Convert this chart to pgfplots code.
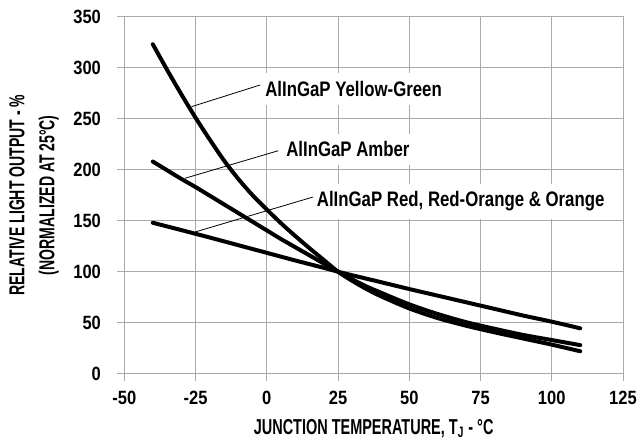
\documentclass[border=0pt]{standalone}
\usepackage{fontspec}
\setmainfont{Liberation Sans Bold}[FakeStretch=0.80]
\newfontfamily\tickfont{Liberation Sans Bold}[FakeStretch=0.86]
\newfontfamily\xlabfont{Liberation Sans Bold}[FakeStretch=0.67]
\newfontfamily\ylabfont{Liberation Sans Bold}[FakeStretch=0.65]
\usepackage{pgfplots}
\pgfplotsset{compat=1.18}
\definecolor{gridgray}{RGB}{170,170,170}
\begin{document}
\fontsize{10.5}{12}\selectfont
\begin{tikzpicture}
\begin{axis}[
  scale only axis,
  width=249.35pt, height=178.5pt,
  xmin=-50, xmax=125, ymin=0, ymax=350,
  xtick={-50,-25,...,125},
  ytick={0,50,...,350},
  grid=major,
  grid style={gridgray, line width=0.5pt},
  axis line style={gridgray, line width=0.5pt},
  tick style={gridgray, line width=0.5pt},
  tick align=outside,
  major tick length=3.5pt,
  xtick pos=bottom, ytick pos=left,
  /pgf/number format/assume math mode=true,
  /pgf/number format/set thousands separator={},
  ticklabel style={font=\tickfont\fontsize{9.6}{11}\selectfont},
  xticklabel shift=1.5pt,
  yticklabel shift=4.5pt,
  xlabel={JUNCTION TEMPERATURE, T\textsubscript{J} - °C},
  ylabel={RELATIVE LIGHT OUTPUT - \%\\(NORMALIZED AT 25°C)},
  xlabel style={at={(axis description cs:0.5,-0.1689)}, anchor=base, font=\xlabfont\fontsize{10.8}{13}\selectfont},
  ylabel style={at={(axis description cs:-0.1809,0.50)}, anchor=center, align=center, font=\ylabfont\fontsize{10.8}{15}\selectfont},
]
% AlInGaP Yellow-Green
\addplot[black, line width=2pt, line cap=round, smooth] coordinates {
  (-40,323) (-35,298) (-30,274) (-25,251) (-20,229.5) (-15,209) (-10,191)
  (-5,175) (0,161) (5,147.5) (10,135) (15,123) (20,111.5) (25,100) (30,91)
  (35,83) (40,76) (50,64) (60,54.5) (70,47) (80,40.5) (90,34.5) (100,28.5) (110,22)
};
% AlInGaP Amber
\addplot[black, line width=2pt, line cap=round, smooth] coordinates {
  (-40,208) (-35,199.5) (-30,191) (-25,183) (-20,174.5) (-15,166) (-10,157.5)
  (-5,149) (0,140.5) (5,132) (10,124) (15,116) (20,108) (25,100) (30,92.5)
  (35,85.5) (40,79.5) (50,68) (60,58.5) (70,50.5) (80,44) (90,38) (100,33) (110,28)
};
% AlInGaP Red, Red-Orange & Orange
\addplot[black, line width=2pt, line cap=round, smooth] coordinates {
  (-40,148) (-30,140.8) (-20,133.5) (-10,126) (0,118.5) (10,111) (20,103.8)
  (25,100) (30,96.5) (40,89.8) (50,83) (60,76.5) (70,70) (80,63.5) (90,57)
  (100,51) (110,44.5)
};
% leaders and labels
\draw[black, line width=0.4pt] (axis cs:-26.4,261.8) -- (axis cs:-2.4,283);
\draw[black, line width=0.4pt] (axis cs:-28.7,191.6) -- (axis cs:4.0,218.6);
\draw[black, line width=0.4pt] (axis cs:-25.2,138.9) -- (axis cs:16.2,173.2);
\node[anchor=base west, fill=white, inner xsep=1.5pt, inner ysep=4pt] at (axis cs:-1.7,271.9) {AlInGaP Yellow-Green};
\node[anchor=base west, fill=white, inner xsep=1.5pt, inner ysep=4pt] at (axis cs:5.65,212.7) {AlInGaP Amber};
\node[anchor=base west, fill=white, inner xsep=1.5pt, inner ysep=4pt] at (axis cs:16.4,163.7) {AlInGaP Red, Red-Orange \& Orange};
\coordinate (sw) at (rel axis cs:0,0);
\coordinate (ne) at (rel axis cs:1,1);
\end{axis}
\pgfresetboundingbox
\path ([shift={(-62.15pt,-33.15pt)}]sw) rectangle ([shift={(9pt,8.35pt)}]ne);
\end{tikzpicture}
\end{document}
